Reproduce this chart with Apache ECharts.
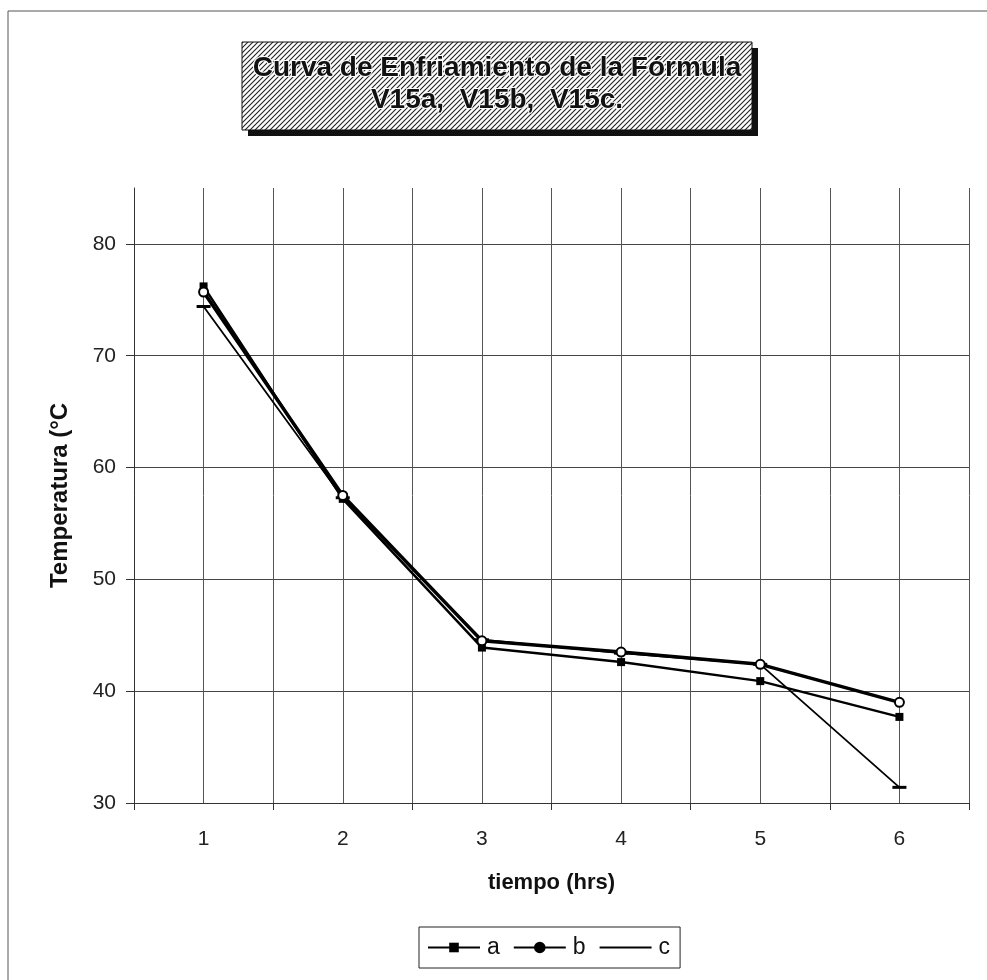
<!DOCTYPE html>
<html>
<head>
<meta charset="utf-8">
<script src="https://cdn.jsdelivr.net/npm/echarts@6/dist/echarts.min.js"></script>
<style>
html,body{margin:0;padding:0;background:#fff;}
#chart{width:987px;height:980px;}
</style>
</head>
<body>
<div id="chart"></div>
<script>
// ---- data ----
const categories = ['1', '2', '3', '4', '5', '6'];
const seriesA = [76.2, 57.2, 43.9, 42.6, 40.9, 37.7];
const seriesB = [75.7, 57.5, 44.5, 43.5, 42.4, 39.0];
const seriesC = [74.4, 57.3, 44.6, 43.4, 42.4, 31.4];
const seriesNames = ['a', 'b', 'c'];
const titleLines = ['Curva de Enfriamiento de la Fórmula', 'V15a,  V15b,  V15c.'];
const xAxisName = 'tiempo (hrs)';
const yAxisName = 'Temperatura (°C';

// hatch pattern for the title box
const pc = document.createElement('canvas');
pc.width = 5; pc.height = 5;
const pctx = pc.getContext('2d');
pctx.fillStyle = '#fff';
pctx.fillRect(0, 0, 5, 5);
pctx.strokeStyle = '#222';
pctx.lineWidth = 1.1;
pctx.beginPath();
pctx.moveTo(0, 5); pctx.lineTo(5, 0);
pctx.moveTo(-2.5, 2.5); pctx.lineTo(2.5, -2.5);
pctx.moveTo(2.5, 7.5); pctx.lineTo(7.5, 2.5);
pctx.stroke();

const FONT = '"Liberation Sans", Arial, sans-serif';
const chart = echarts.init(document.getElementById('chart'));

chart.setOption({
  backgroundColor: '#fff',
  animation: false,
  textStyle: { fontFamily: FONT },
  graphic: [
    { type: 'rect', shape: { x: 8, y: 11, width: 985, height: 985 },
      style: { fill: 'none', stroke: '#555', lineWidth: 1 }, z: -10 },
    { type: 'rect', shape: { x: 248, y: 48, width: 510, height: 88 },
      style: { fill: '#111' }, z: 10 },
    { type: 'rect', shape: { x: 242, y: 42, width: 510, height: 88 },
      style: { fill: { image: pc, repeat: 'repeat' }, stroke: '#111', lineWidth: 1 }, z: 11 },
    { type: 'text', x: 497, y: 84, z: 12,
      style: { text: titleLines.join('\n'), fill: '#111', stroke: '#fff', lineWidth: 2,
        font: 'bold 28px ' + FONT, align: 'center', verticalAlign: 'middle', lineHeight: 32 } }
  ],
  legend: {
    data: [
      { name: 'a' },
      { name: 'b', itemStyle: { color: '#000', borderColor: '#000' } },
      { name: 'c', itemStyle: { color: 'rgba(0,0,0,0)', borderWidth: 0 } }
    ],
    left: 419, top: 927,
    orient: 'horizontal',
    itemWidth: 52, itemHeight: 12, itemGap: 13,
    padding: [9, 10, 9, 8],
    borderColor: '#222', borderWidth: 1,
    textStyle: { fontSize: 23, color: '#111', fontFamily: FONT, padding: [0, 0, 0, 2] }
  },
  grid: { left: 134, right: 18, top: 188, bottom: 177, containLabel: false },
  xAxis: [
    {
      type: 'category', data: categories, boundaryGap: true,
      axisLine: { lineStyle: { color: '#333', width: 1 } },
      axisTick: { show: true, length: 7, lineStyle: { color: '#333' } },
      axisLabel: { fontSize: 21, color: '#222', margin: 26 },
      splitLine: { show: false },
      name: xAxisName, nameLocation: 'middle', nameGap: 69,
      nameTextStyle: { fontSize: 22, fontWeight: 'bold', color: '#111' }
    },
    {
      type: 'value', min: 0.5, max: 6.5, interval: 0.5, position: 'top',
      axisLine: { show: false }, axisTick: { show: false }, axisLabel: { show: false },
      splitLine: { show: true, lineStyle: { color: '#555', width: 1 } }
    }
  ],
  yAxis: {
    type: 'value', min: 30, max: 85, interval: 10,
    axisLine: { show: true, lineStyle: { color: '#333', width: 1 } },
    axisTick: { show: true, length: 8, lineStyle: { color: '#333' } },
    axisLabel: { fontSize: 21, color: '#222', margin: 18, showMaxLabel: false },
    splitLine: { show: true, showMinLine: false, showMaxLine: false, lineStyle: { color: '#444', width: 1 } },
    name: yAxisName, nameLocation: 'middle', nameGap: 62,
    nameTextStyle: { fontSize: 24, fontWeight: 'bold', color: '#111' }
  },
  series: [
    { name: seriesNames[0], type: 'line', xAxisIndex: 0, data: seriesA,
      symbol: 'rect', symbolSize: 8, showAllSymbol: true,
      lineStyle: { color: '#000', width: 2.5 },
      itemStyle: { color: '#000' }, z: 3 },
    { name: seriesNames[1], type: 'line', xAxisIndex: 0, data: seriesB,
      symbol: 'circle', symbolSize: 9, showAllSymbol: true,
      lineStyle: { color: '#000', width: 3.5 },
      itemStyle: { color: '#fff', borderColor: '#000', borderWidth: 2 }, z: 4 },
    { name: seriesNames[2], type: 'line', xAxisIndex: 0, data: seriesC,
      symbol: 'rect', symbolSize: [14, 3], showAllSymbol: true,
      lineStyle: { color: '#000', width: 1.8 },
      itemStyle: { color: '#000' }, z: 2 }
  ]
});
</script>
</body>
</html>
